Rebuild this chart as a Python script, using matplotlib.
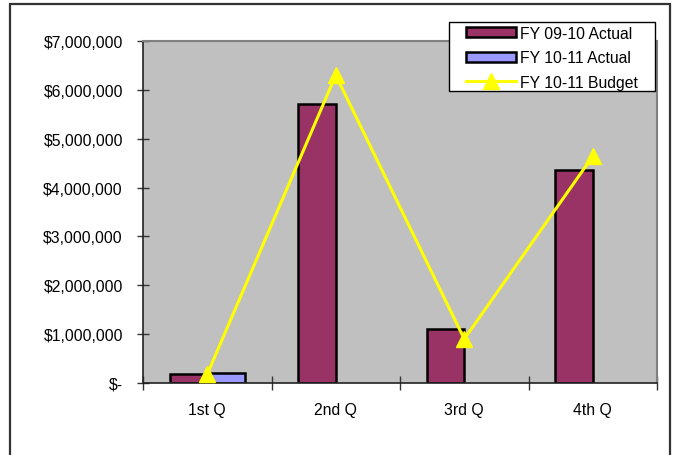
import numpy as np
import matplotlib
matplotlib.use("Agg")
import matplotlib.pyplot as plt
from matplotlib.patches import Rectangle
from matplotlib.ticker import FuncFormatter

plt.rcParams['font.family'] = ['Liberation Sans', 'DejaVu Sans']

quarters = ["1st Q", "2nd Q", "3rd Q", "4th Q"]
fy0910_actual = [190000, 5720000, 1100000, 4360000]
fy1011_actual = [205000, np.nan, np.nan, np.nan]
fy1011_budget = [180000, 6300000, 900000, 4640000]

fig = plt.figure(figsize=(6.75, 4.56), dpi=100)
fig.patch.set_facecolor("white")

# chart frame around the whole figure
frame = Rectangle((10 / 675, -0.05), (670 - 10) / 675, 1 - 5 / 456 + 0.05,
                  transform=fig.transFigure, fill=False,
                  edgecolor="#333333", linewidth=1.6, zorder=0)
fig.add_artist(frame)

ax = fig.add_axes([143 / 675, 1 - 384 / 456, (657 - 143) / 675, (384 - 42) / 456])
ax.set_facecolor("#C0C0C0")

x = np.arange(len(quarters))
w = 0.29
b1 = ax.bar(x - w / 2, fy0910_actual, w, color="#993366", edgecolor="black",
            linewidth=1.8, label="FY 09-10 Actual", zorder=2)
b2 = ax.bar(x + w / 2, fy1011_actual, w, color="#9999FF", edgecolor="black",
            linewidth=1.8, label="FY 10-11 Actual", zorder=2)
ln, = ax.plot(x, fy1011_budget, color="#FFFF00", linewidth=2.2, marker="^",
              markersize=11, label="FY 10-11 Budget", zorder=3)

ax.set_xlim(-0.5, len(quarters) - 0.5)
ax.set_ylim(0, 7000000)
ax.set_yticks(np.arange(0, 7000001, 1000000))


def money(v, pos):
    if v == 0:
        return "$-"
    return "${:,.0f}".format(v)


ax.yaxis.set_major_formatter(FuncFormatter(money))

# category boundaries carry tick marks, labels sit at category centres
ax.set_xticks(np.arange(-0.5, len(quarters), 1.0))
ax.set_xticklabels([])
ax.set_xticks(x, minor=True)
ax.set_xticklabels(quarters, minor=True)
ax.tick_params(axis="x", which="minor", length=0, pad=14, labelsize=11.3)
ax.tick_params(axis="x", which="major", direction="inout", length=10,
               width=1, color="#333333")
ax.tick_params(axis="y", direction="inout", length=9, width=1,
               color="#333333", pad=10, labelsize=11.3)

for side in ("left", "bottom"):
    ax.spines[side].set_color("#222222")
    ax.spines[side].set_linewidth(1.2)
for side in ("top", "right"):
    ax.spines[side].set_color("#808080")
    ax.spines[side].set_linewidth(1.5)

# legend box
lx0, lx1, ly0, ly1 = 449, 655, 23, 92
box = Rectangle((lx0 / 675, 1 - ly1 / 456), (lx1 - lx0) / 675, (ly1 - ly0) / 456,
                transform=fig.transFigure, facecolor="white",
                edgecolor="black", linewidth=1.0, zorder=4)
fig.add_artist(box)
leg = fig.legend([b1, b2, ln], [b1.get_label(), b2.get_label(), ln.get_label()],
                 loc="upper left", bbox_to_anchor=(461 / 675, 1 - 22 / 456),
                 frameon=False, fontsize=11.3,
                 handlelength=3.2, handleheight=0.6, handletextpad=0.25,
                 labelspacing=0.6, borderpad=0.3, borderaxespad=0)
leg.set_zorder(5)

fig.savefig("out.png", dpi=100)
